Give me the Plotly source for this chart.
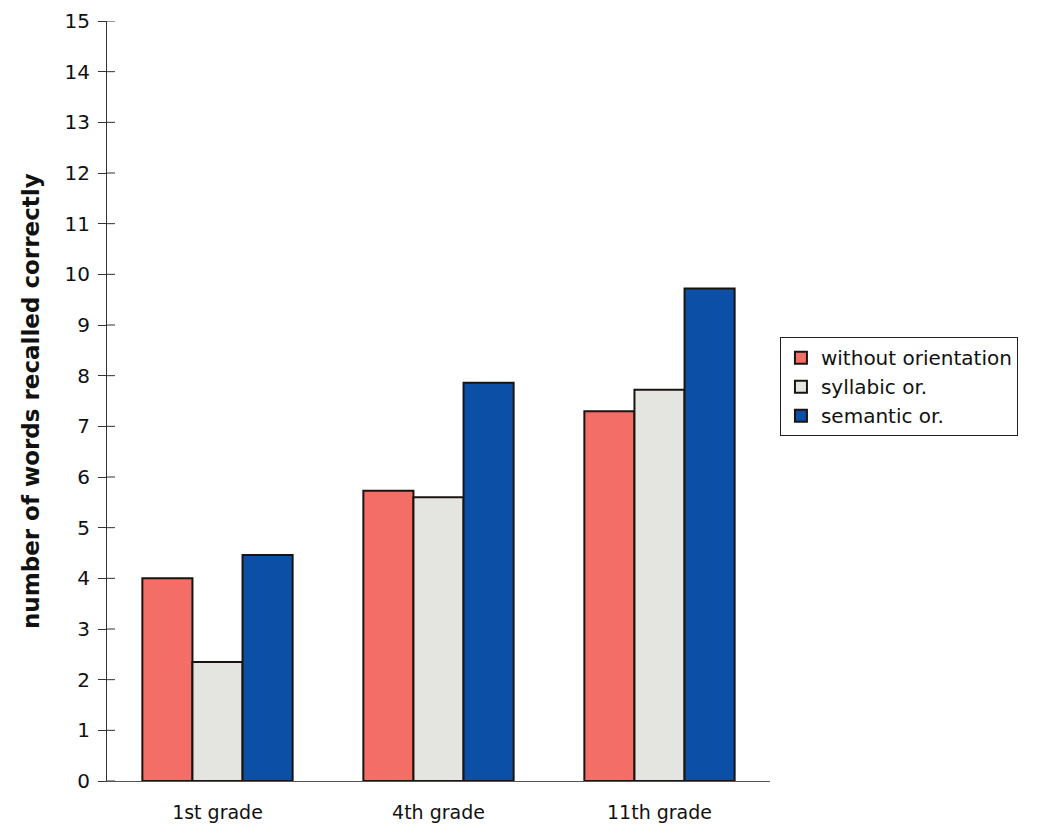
import plotly.graph_objects as go

# Recall results by grade and orientation condition
grades = ["1st grade", "4th grade", "11th grade"]
without_orientation = [4.0, 5.73, 7.3]
syllabic_or = [2.35, 5.6, 7.72]
semantic_or = [4.46, 7.86, 9.72]
y_ticks = list(range(0, 16))

series = [
    ("without orientation", without_orientation, "#F26E66"),
    ("syllabic or.", syllabic_or, "#E4E4E1"),
    ("semantic or.", semantic_or, "#0B4FA6"),
]

fig = go.Figure()
for name, vals, color in series:
    fig.add_trace(go.Bar(
        x=grades, y=vals, name=name,
        marker=dict(color=color, line=dict(color="#1a1410", width=2)),
    ))

# inner half of the cross-shaped y tick marks
for v in y_ticks:
    fig.add_shape(type="line", xref="paper", yref="y",
                  xsizemode="pixel", xanchor=0, x0=0, x1=8, y0=v, y1=v,
                  line=dict(color="#333", width=1), layer="above")

tick_font = dict(family="DejaVu Sans", size=20, color="#111")

fig.add_annotation(text="<b>number of words recalled correctly</b>",
                   xref="paper", yref="paper", x=-0.1146, y=0.5,
                   xanchor="center", yanchor="middle",
                   textangle=-90, showarrow=False,
                   font=dict(family="DejaVu Sans", size=23, color="#111"))

fig.update_layout(
    width=1042, height=837,
    margin=dict(l=107, r=272, t=21, b=56),
    paper_bgcolor="white", plot_bgcolor="white",
    barmode="group", bargap=0.32, bargroupgap=0,
    font=tick_font,
    xaxis=dict(showline=True, linecolor="#555", linewidth=1, ticks="",
               tickfont=dict(family="DejaVu Sans", size=19, color="#111"),
               ticklabelstandoff=14, showgrid=False, automargin=False),
    yaxis=dict(range=[0, 15], tickvals=y_ticks, showline=True,
               linecolor="#333", linewidth=1, ticks="outside", ticklen=8,
               tickcolor="#333", tickfont=tick_font, showgrid=False,
               zeroline=False, ticklabelstandoff=4, automargin=False),
    legend=dict(x=1.015, y=0.584, xanchor="left", yanchor="top",
                bordercolor="#222", borderwidth=1,
                font=dict(family="DejaVu Sans", size=20, color="#111"),
                tracegroupgap=0, itemwidth=30, traceorder="normal"),
    showlegend=True,
)

fig.write_html("out.html")
